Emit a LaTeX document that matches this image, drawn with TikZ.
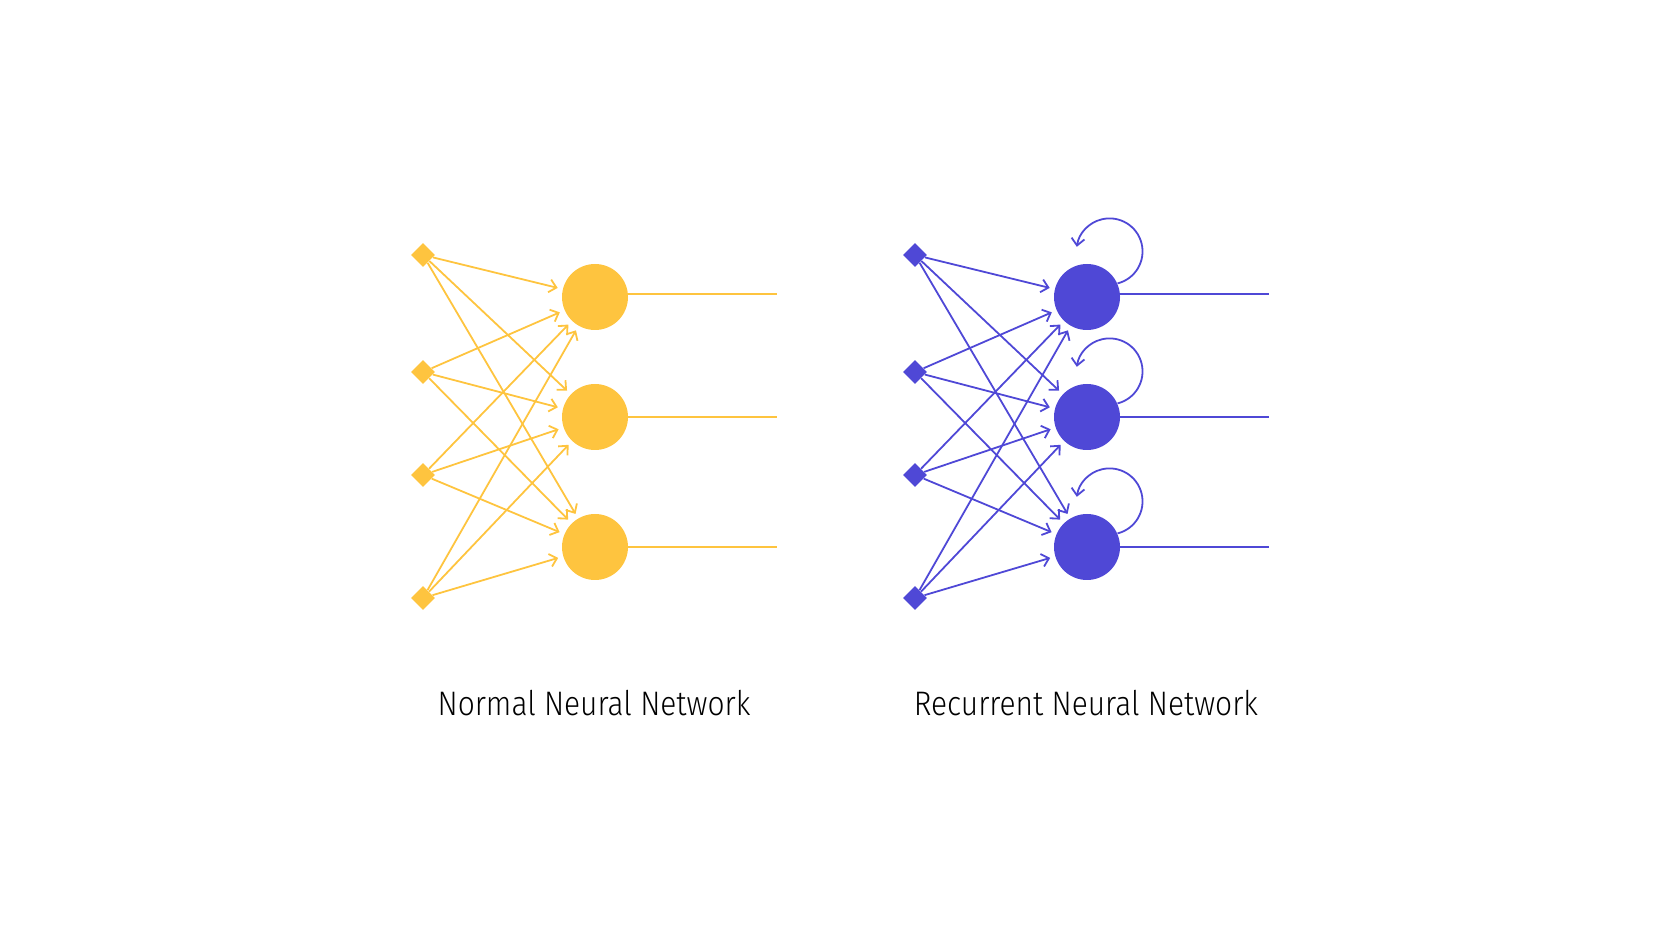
\documentclass[tikz,border=0pt]{standalone}
\usepackage{fontspec}
\setmainfont{Fira Sans Light}[FakeStretch=0.88]
\usepackage{tikz}
\usetikzlibrary{shapes.geometric,arrows.meta}
\definecolor{nnyellow}{HTML}{FEC43F}
\definecolor{rnnblue}{HTML}{4F48D6}

\begin{document}
\begin{tikzpicture}[x=0.5pt,y=-0.5pt,
 inp/.style={diamond,fill,inner sep=0pt,minimum size=12pt},
 unit/.style={circle,fill,inner sep=0pt,minimum size=33pt},
 ar/.style={-{Straight Barb[length=3.5pt,width=6.5pt]},line width=0.9pt,shorten >=2.5pt},
 ln/.style={line width=0.9pt},
 ttl/.style={font=\fontsize{17}{20}\selectfont,anchor=base,text=black}]
\useasboundingbox (0,0) rectangle (1680,945);
% normal network
\node[inp,nnyellow] (yi1) at (423,255) {};
\node[inp,nnyellow] (yi2) at (423,372) {};
\node[inp,nnyellow] (yi3) at (423,475) {};
\node[inp,nnyellow] (yi4) at (423,598) {};
\node[unit,nnyellow] (yo1) at (595,297) {};
\node[unit,nnyellow] (yo2) at (595,417) {};
\node[unit,nnyellow] (yo3) at (595,547) {};
\coordinate (ye1) at (777,294); \coordinate (ye2) at (777,417); \coordinate (ye3) at (777,547);
\draw[ar,nnyellow] (yi1)--(yo1); \draw[ar,nnyellow] (yi1)--(yo2); \draw[ar,nnyellow] (yi1)--(yo3);
\draw[ar,nnyellow] (yi2)--(yo1); \draw[ar,nnyellow] (yi2)--(yo2); \draw[ar,nnyellow] (yi2)--(yo3);
\draw[ar,nnyellow] (yi3)--(yo1); \draw[ar,nnyellow] (yi3)--(yo2); \draw[ar,nnyellow] (yi3)--(yo3);
\draw[ar,nnyellow] (yi4)--(yo1); \draw[ar,nnyellow] (yi4)--(yo2); \draw[ar,nnyellow] (yi4)--(yo3);
\draw[ln,nnyellow] (yo1.east|-ye1)--(ye1); \draw[ln,nnyellow] (yo2)--(ye2); \draw[ln,nnyellow] (yo3)--(ye3);
\node[ttl] (ylab) at (594,715) {Normal Neural Network};
% recurrent network
\node[inp,rnnblue] (bi1) at (915,255) {};
\node[inp,rnnblue] (bi2) at (915,372) {};
\node[inp,rnnblue] (bi3) at (915,475) {};
\node[inp,rnnblue] (bi4) at (915,598) {};
\node[unit,rnnblue] (bo1) at (1087,297) {};
\node[unit,rnnblue] (bo2) at (1087,417) {};
\node[unit,rnnblue] (bo3) at (1087,547) {};
\coordinate (be1) at (1269,294); \coordinate (be2) at (1269,417); \coordinate (be3) at (1269,547);
\draw[ar,rnnblue] (bi1)--(bo1); \draw[ar,rnnblue] (bi1)--(bo2); \draw[ar,rnnblue] (bi1)--(bo3);
\draw[ar,rnnblue] (bi2)--(bo1); \draw[ar,rnnblue] (bi2)--(bo2); \draw[ar,rnnblue] (bi2)--(bo3);
\draw[ar,rnnblue] (bi3)--(bo1); \draw[ar,rnnblue] (bi3)--(bo2); \draw[ar,rnnblue] (bi3)--(bo3);
\draw[ar,rnnblue] (bi4)--(bo1); \draw[ar,rnnblue] (bi4)--(bo2); \draw[ar,rnnblue] (bi4)--(bo3);
\draw[ln,rnnblue] (bo1.east|-be1)--(be1); \draw[ln,rnnblue] (bo2)--(be2); \draw[ln,rnnblue] (bo3)--(be3);
\draw[ar,rnnblue,shorten >=0pt] (bo1.24) arc[start angle=-76,end angle=172,radius=16.5pt];
\draw[ar,rnnblue,shorten >=0pt] (bo2.24) arc[start angle=-76,end angle=172,radius=16.5pt];
\draw[ar,rnnblue,shorten >=0pt] (bo3.24) arc[start angle=-76,end angle=172,radius=16.5pt];
\node[ttl] (blab) at (1086,715) {Recurrent Neural Network};
\end{tikzpicture}
\end{document}
